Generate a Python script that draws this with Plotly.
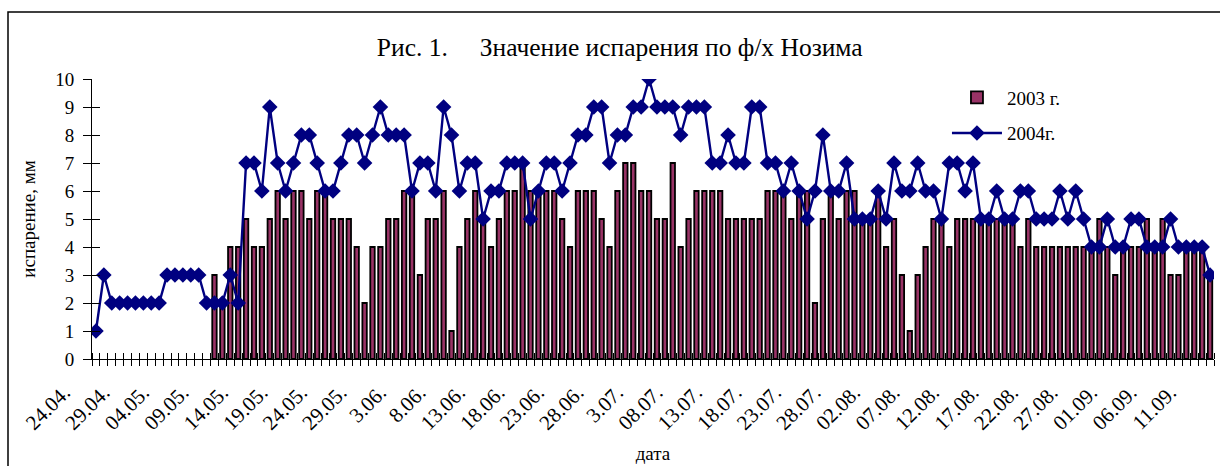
import plotly.graph_objects as go

# ── Data: daily evaporation, mm (24.04 – 12.09) ──────────────────────────────
# 2003 has no records before 09.05, so the first 15 days are empty.
evap_2003 = [None] * 15 + [
    3, 2, 4, 4, 5, 4, 4, 5, 6,
    5, 6, 6, 5, 6, 6, 5, 5, 5, 4, 2, 4, 4, 5, 5, 6, 6, 3, 5, 5, 6, 1, 4, 5,
    6, 5, 4, 5, 6, 6, 7, 6, 6, 6, 6, 5, 4, 6, 6, 6, 5, 4, 6, 7, 7, 6, 6, 5,
    5, 7, 4, 5, 6, 6, 6, 6, 5, 5, 5, 5, 5, 6, 6, 6, 5, 6, 6, 2, 5, 6, 5, 6,
    6, 5, 5, 6, 4, 5, 3, 1, 3, 4, 5, 5, 4, 5, 5, 5, 5, 5, 5, 5, 5, 4, 5, 4,
    4, 4, 4, 4, 4, 4, 4, 5, 4, 3, 4, 4, 4, 5, 4, 5, 3, 3, 4, 4, 4, 3,
]

evap_2004 = [
    1, 3, 2, 2, 2, 2, 2, 2, 2, 3, 3, 3, 3, 3, 2, 2, 2, 3, 2, 7, 7, 6, 9, 7,
    6, 7, 8, 8, 7, 6, 6, 7, 8, 8, 7, 8, 9, 8, 8, 8, 6, 7, 7, 6, 9, 8, 6, 7,
    7, 5, 6, 6, 7, 7, 7, 5, 6, 7, 7, 6, 7, 8, 8, 9, 9, 7, 8, 8, 9, 9, 10, 9,
    9, 9, 8, 9, 9, 9, 7, 7, 8, 7, 7, 9, 9, 7, 7, 6, 7, 6, 5, 6, 8, 6, 6, 7,
    5, 5, 5, 6, 5, 7, 6, 6, 7, 6, 6, 5, 7, 7, 6, 7, 5, 5, 6, 5, 5, 6, 6, 5,
    5, 5, 6, 5, 6, 5, 4, 4, 5, 4, 4, 5, 5, 4, 4, 4, 5, 4, 4, 4, 4, 3,
]

# labels shown every 5th day, written as on the original sheet
tick_labels = [
    "24.04.", "29.04.", "04.05.", "09.05.", "14.05.", "19.05.", "24.05.",
    "29.05.", "3.06.", "8.06.", "13.06.", "18.06.", "23.06.", "28.06.",
    "3.07.", "08.07.", "13.07.", "18.07.", "23.07.", "28.07.", "02.08.",
    "07.08.", "12.08.", "17.08.", "22.08.", "27.08.", "01.09.", "06.09.",
    "11.09.",
]

day = list(range(len(evap_2004)))
label_days = day[::5]

FONT = "Liberation Serif, Times New Roman, serif"
NAVY = "#000080"
MAROON = "#993366"

fig = go.Figure()

fig.add_trace(go.Bar(
    x=day, y=evap_2003, name="2003 г.",
    width=0.56,
    marker=dict(color=MAROON, line=dict(color="black", width=1.8)),
    legendgroup="a",
))
fig.add_trace(go.Scatter(
    x=day, y=evap_2004, name="2004г.",
    mode="lines+markers",
    line=dict(color=NAVY, width=2.4),
    marker=dict(symbol="diamond", size=12, color=NAVY),
    legendgroup="b",
))

# second (empty) axes pair only to draw the inner half of the crossing ticks
fig.add_trace(go.Scatter(
    x=[day[0]], y=[0], xaxis="x2", yaxis="y2",
    mode="markers", marker=dict(opacity=0), showlegend=False, hoverinfo="skip",
))

x_range = [-0.5, len(day) - 0.5]

fig.update_layout(
    width=1220, height=466,
    paper_bgcolor="white", plot_bgcolor="white",
    font=dict(family=FONT, color="black", size=19),
    margin=dict(l=92, r=6, t=79, b=107, autoexpand=False),
    title=dict(
        text="Рис. 1.&nbsp;&nbsp;&nbsp;&nbsp;&nbsp;Значение испарения по ф/х Нозима",
        x=0.508, xanchor="center", y=1 - 47 / 466, yanchor="middle",
        yref="container", font=dict(size=25.5, family=FONT),
    ),
    legend=dict(
        x=0.762, y=1.002, xanchor="left", yanchor="top",
        bgcolor="rgba(0,0,0,0)", font=dict(size=19, family=FONT),
        tracegroupgap=8, itemwidth=50,
    ),
    xaxis=dict(
        range=x_range, showgrid=False, zeroline=False, automargin=False,
        showline=True, linecolor="black", linewidth=1,
        tickmode="array", tickvals=label_days, ticktext=tick_labels,
        ticks="", tickangle=-45, tickfont=dict(size=21),
        ticklabelshift=-32, ticklabelstandoff=12,
        minor=dict(tick0=-0.5, dtick=1, ticks="outside", ticklen=6,
                   tickcolor="black", tickwidth=1),
        title=dict(text="дата", font=dict(size=19), standoff=12),
    ),
    yaxis=dict(
        range=[0, 10], dtick=1, showgrid=False, zeroline=False,
        automargin=False,
        showline=True, linecolor="black", linewidth=1,
        ticks="outside", ticklen=8, tickcolor="black",
        tickfont=dict(size=19), ticklabelstandoff=5,
        title=dict(text="испарение, мм", font=dict(size=19), standoff=14),
    ),
    xaxis2=dict(
        overlaying="x", range=x_range, showgrid=False, zeroline=False,
        showticklabels=False, tickmode="array", tickvals=[],
        minor=dict(tick0=-0.5, dtick=1, ticks="inside", ticklen=6,
                   tickcolor="black", tickwidth=1),
    ),
    yaxis2=dict(
        overlaying="y", range=[0, 10], dtick=1, showgrid=False,
        zeroline=False, showticklabels=False,
        ticks="inside", ticklen=8, tickcolor="black",
    ),
    shapes=[dict(
        type="rect", xref="paper", yref="paper",
        x0=(8 - 92) / 1122, x1=(1230 - 92) / 1122,
        y0=(359 - 480) / 280, y1=(359 - 12) / 280,
        line=dict(color="black", width=1.5), fillcolor="rgba(0,0,0,0)",
        layer="below",
    )],
)

# the page's default 8px body margin would shift the whole figure
fig.write_html(
    "out.html",
    config={"displayModeBar": False},
    post_script="document.body.style.margin = '0';",
)
